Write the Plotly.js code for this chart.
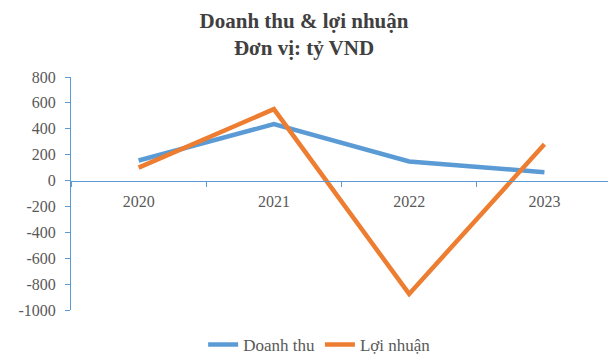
<!DOCTYPE html>
<html>
<head>
<meta charset="utf-8">
<script src="https://cdn.plot.ly/plotly-3.0.1.min.js"></script>
<style>html,body{margin:0;padding:0;background:#fff;}#chart{width:608px;height:363px;}</style>
</head>
<body>
<div id="chart"></div>
<script>
const years = ["2020", "2021", "2022", "2023"];
const doanhThu = [155, 436, 147, 65];
const loiNhuan = [100, 552, -876, 281];
const yTicks = [800, 600, 400, 200, 0, -200, -400, -600, -800, -1000];

const fontFam = "'Liberation Serif', 'Times New Roman', serif";
const axisColor = "#5B9BD5";

const traces = [
  {x: years, y: doanhThu, name: "Doanh thu", type: "scatter", mode: "lines",
   line: {color: "#5B9BD5", width: 4.5}},
  {x: years, y: loiNhuan, name: "Lợi nhuận", type: "scatter", mode: "lines",
   line: {color: "#ED7D31", width: 4.5}}
];

const yMin = -1000, yMax = 800;
const layout = {
  width: 608, height: 363,
  margin: {l: 71, r: 0, t: 77, b: 53},
  paper_bgcolor: "#fff", plot_bgcolor: "#fff",
  font: {family: fontFam, color: "#595959", size: 16},
  title: {text: "<b>Doanh thu & lợi nhuận<br>Đơn vị: tỷ VND</b>",
          font: {family: fontFam, size: 21, color: "#404040"},
          x: 0.5, xanchor: "center", y: 1 - 28 / 363, yanchor: "bottom", yref: "container"},
  showlegend: true,
  legend: {orientation: "h", x: 0.463, xanchor: "center", y: -0.15, yanchor: "middle",
           font: {family: fontFam, size: 17, color: "#595959"}},
  xaxis: {type: "category", range: [-0.5, 3.47], tickson: "boundaries",
          ticks: "outside", ticklen: 5, tickcolor: axisColor, showline: true,
          linecolor: axisColor, linewidth: 1, showgrid: false, zeroline: false,
          anchor: "free", position: (0 - yMin) / (yMax - yMin), ticklabelstandoff: 6,
          tickfont: {family: fontFam, size: 16, color: "#595959"}, fixedrange: true},
  yaxis: {range: [yMin, yMax], tickvals: yTicks, ticktext: yTicks.map(String),
          ticks: "outside", ticklen: 5, tickcolor: axisColor, showline: true,
          linecolor: axisColor, linewidth: 1, showgrid: false, zeroline: false,
          ticklabelstandoff: 6,
          tickfont: {family: fontFam, size: 16, color: "#595959"}, fixedrange: true}
};

Plotly.newPlot("chart", traces, layout, {displayModeBar: false, staticPlot: true});
</script>
</body>
</html>
